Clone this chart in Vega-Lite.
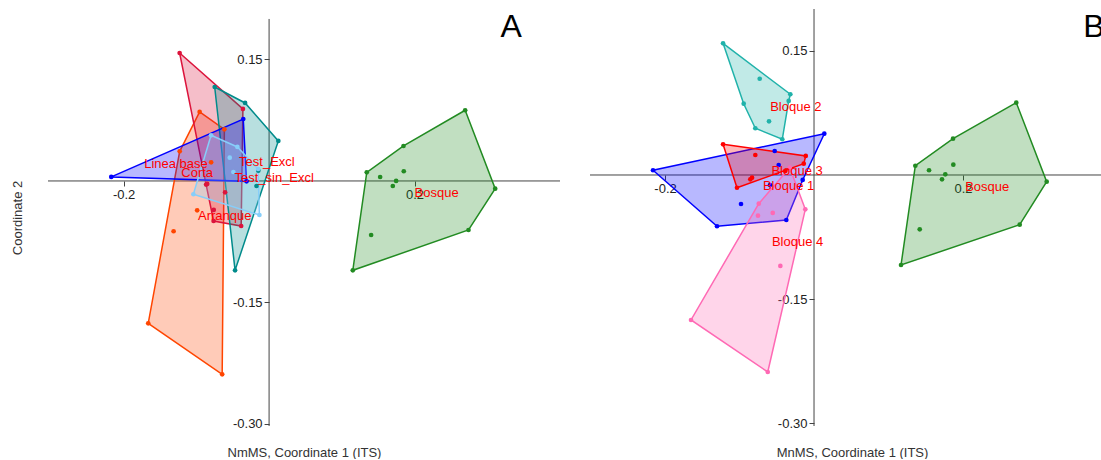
{
  "$schema": "https://vega.github.io/schema/vega-lite/v6.json",
  "padding": {"left": 11, "top": 8, "right": 0, "bottom": 0},
  "spacing": 28,
  "config": {
    "view": {"stroke": null},
    "font": "Liberation Sans",
    "axis": {"grid": false, "domain": false, "tickColor": "#444", "tickSize": 5, "tickWidth": 1, "labelFontSize": 13, "labelColor": "#222", "labelFont": "Liberation Sans", "labelPadding": 2, "titleFont": "Liberation Sans", "titleFontSize": 13, "titleFontWeight": "normal", "titleColor": "#333", "maxExtent": 600, "minExtent": 0}
  },
  "resolve": {"scale": {"x": "independent", "y": "independent", "color": "independent", "fill": "independent", "stroke": "independent"}},
  "datasets": {
    "axA": [{"x": -0.304, "y": 0, "x2": 0.4, "y2": 0}, {"x": 0, "y": -0.3025, "x2": 0, "y2": 0.2}],
    "axB": [{"x": -0.3007, "y": 0, "x2": 0.3879, "y2": 0}, {"x": 0, "y": -0.3035, "x2": 0, "y2": 0.2007}],
    "ptsA": [
      {"g": "Linea base", "x": -0.217, "y": 0.005},
      {"g": "Linea base", "x": -0.0355, "y": 0.0765},
      {"g": "Linea base", "x": -0.031, "y": -0.0005},
      {"g": "Corta", "x": -0.123, "y": 0.158},
      {"g": "Corta", "x": -0.036, "y": 0.089},
      {"g": "Corta", "x": -0.0866, "y": -0.0045},
      {"g": "Corta", "x": -0.0851, "y": -0.0037},
      {"g": "Corta", "x": -0.0605, "y": -0.014},
      {"g": "Corta", "x": -0.0761, "y": -0.0358},
      {"g": "Corta", "x": -0.0763, "y": -0.0494},
      {"g": "Corta", "x": -0.0384, "y": -0.0556},
      {"g": "Arranque", "x": -0.0955, "y": 0.0852},
      {"g": "Arranque", "x": -0.0615, "y": 0.0638},
      {"g": "Arranque", "x": -0.1229, "y": 0.0366},
      {"g": "Arranque", "x": -0.0797, "y": 0.023},
      {"g": "Arranque", "x": -0.0989, "y": -0.0362},
      {"g": "Arranque", "x": -0.1313, "y": -0.0621},
      {"g": "Arranque", "x": -0.1662, "y": -0.1757},
      {"g": "Arranque", "x": -0.0645, "y": -0.2387},
      {"g": "Test_sin_Excl", "x": -0.0748, "y": 0.116},
      {"g": "Test_sin_Excl", "x": -0.033, "y": 0.0963},
      {"g": "Test_sin_Excl", "x": 0.0127, "y": 0.0494},
      {"g": "Test_sin_Excl", "x": -0.0148, "y": 0.0127},
      {"g": "Test_sin_Excl", "x": -0.0173, "y": -0.0062},
      {"g": "Test_sin_Excl", "x": -0.0468, "y": -0.1103},
      {"g": "Test_Excl", "x": -0.0798, "y": 0.0564},
      {"g": "Test_Excl", "x": -0.0436, "y": 0.042},
      {"g": "Test_Excl", "x": -0.0541, "y": 0.0288},
      {"g": "Test_Excl", "x": -0.0491, "y": 0.0111},
      {"g": "Test_Excl", "x": -0.0151, "y": 0.0148},
      {"g": "Test_Excl", "x": -0.1041, "y": -0.0164},
      {"g": "Test_Excl", "x": -0.0133, "y": -0.042},
      {"g": "Bosque", "x": 0.2696, "y": 0.0873},
      {"g": "Bosque", "x": 0.1848, "y": 0.0432},
      {"g": "Bosque", "x": 0.1343, "y": 0.0107},
      {"g": "Bosque", "x": 0.1527, "y": 0.0049},
      {"g": "Bosque", "x": 0.1852, "y": 0.012},
      {"g": "Bosque", "x": 0.1747, "y": 0.0},
      {"g": "Bosque", "x": 0.1701, "y": -0.0062},
      {"g": "Bosque", "x": 0.3109, "y": -0.0095},
      {"g": "Bosque", "x": 0.2742, "y": -0.0605},
      {"g": "Bosque", "x": 0.1403, "y": -0.0667},
      {"g": "Bosque", "x": 0.1151, "y": -0.1103}
    ],
    "hullA": [
      {"g": "Bosque", "o": 1, "x": 0.2696, "y": 0.0873},
      {"g": "Bosque", "o": 2, "x": 0.3109, "y": -0.0095},
      {"g": "Bosque", "o": 3, "x": 0.2742, "y": -0.0605},
      {"g": "Bosque", "o": 4, "x": 0.1151, "y": -0.1103},
      {"g": "Bosque", "o": 5, "x": 0.1343, "y": 0.0107},
      {"g": "Bosque", "o": 6, "x": 0.1848, "y": 0.0432},
      {"g": "Bosque", "o": 7, "x": 0.2696, "y": 0.0873},
      {"g": "Arranque", "o": 1, "x": -0.0955, "y": 0.0852},
      {"g": "Arranque", "o": 2, "x": -0.0615, "y": 0.0638},
      {"g": "Arranque", "o": 3, "x": -0.0645, "y": -0.2387},
      {"g": "Arranque", "o": 4, "x": -0.1662, "y": -0.1757},
      {"g": "Arranque", "o": 5, "x": -0.1229, "y": 0.0366},
      {"g": "Arranque", "o": 6, "x": -0.0955, "y": 0.0852},
      {"g": "Corta", "o": 1, "x": -0.123, "y": 0.158},
      {"g": "Corta", "o": 2, "x": -0.036, "y": 0.089},
      {"g": "Corta", "o": 3, "x": -0.0384, "y": -0.0556},
      {"g": "Corta", "o": 4, "x": -0.0763, "y": -0.0494},
      {"g": "Corta", "o": 5, "x": -0.0866, "y": -0.0045},
      {"g": "Corta", "o": 6, "x": -0.123, "y": 0.158},
      {"g": "Test_sin_Excl", "o": 1, "x": -0.0748, "y": 0.116},
      {"g": "Test_sin_Excl", "o": 2, "x": -0.033, "y": 0.0963},
      {"g": "Test_sin_Excl", "o": 3, "x": 0.0127, "y": 0.0494},
      {"g": "Test_sin_Excl", "o": 4, "x": -0.0468, "y": -0.1103},
      {"g": "Test_sin_Excl", "o": 5, "x": -0.0748, "y": 0.116},
      {"g": "Linea base", "o": 1, "x": -0.217, "y": 0.005},
      {"g": "Linea base", "o": 2, "x": -0.0355, "y": 0.0765},
      {"g": "Linea base", "o": 3, "x": -0.031, "y": -0.0005},
      {"g": "Linea base", "o": 4, "x": -0.217, "y": 0.005},
      {"g": "Test_Excl", "o": 1, "x": -0.0798, "y": 0.0564},
      {"g": "Test_Excl", "o": 2, "x": -0.0436, "y": 0.042},
      {"g": "Test_Excl", "o": 3, "x": -0.0151, "y": 0.0148},
      {"g": "Test_Excl", "o": 4, "x": -0.0133, "y": -0.042},
      {"g": "Test_Excl", "o": 5, "x": -0.1041, "y": -0.0164},
      {"g": "Test_Excl", "o": 6, "x": -0.0798, "y": 0.0564}
    ],
    "labA": [
      {"t": "Linea base", "x": -0.128, "y": 0.0206},
      {"t": "Corta", "x": -0.0989, "y": 0.0095},
      {"t": "Test_Excl", "x": -0.003, "y": 0.0231},
      {"t": "Test_sin_Excl", "x": 0.007, "y": 0.0041},
      {"t": "Arranque", "x": -0.061, "y": -0.0432},
      {"t": "Bosque", "x": 0.2303, "y": -0.0152}
    ],
    "letA": [{"t": "A", "x": 0.333, "y": 0.178}],
    "ptsB": [
      {"g": "Bloque 2", "x": -0.1221, "y": 0.1592},
      {"g": "Bloque 2", "x": -0.0729, "y": 0.1164},
      {"g": "Bloque 2", "x": -0.0318, "y": 0.0976},
      {"g": "Bloque 2", "x": -0.034, "y": 0.0895},
      {"g": "Bloque 2", "x": -0.0944, "y": 0.0862},
      {"g": "Bloque 2", "x": -0.0604, "y": 0.0649},
      {"g": "Bloque 2", "x": -0.0788, "y": 0.0565},
      {"g": "Bloque 2", "x": -0.0426, "y": 0.0432},
      {"g": "Bloque 1", "x": 0.0138, "y": 0.0499},
      {"g": "Bloque 1", "x": -0.2161, "y": 0.0057},
      {"g": "Bloque 1", "x": -0.1302, "y": -0.062},
      {"g": "Bloque 1", "x": -0.0372, "y": -0.0544},
      {"g": "Bloque 1", "x": -0.0152, "y": -0.006},
      {"g": "Bloque 1", "x": -0.0528, "y": 0.029},
      {"g": "Bloque 1", "x": -0.0474, "y": 0.0121},
      {"g": "Bloque 1", "x": -0.098, "y": -0.0351},
      {"g": "Bloque 1", "x": -0.0591, "y": -0.0121},
      {"g": "Bloque 3", "x": -0.1221, "y": 0.0371},
      {"g": "Bloque 3", "x": -0.0788, "y": 0.0242},
      {"g": "Bloque 3", "x": -0.0111, "y": 0.023},
      {"g": "Bloque 3", "x": -0.0138, "y": 0.0137},
      {"g": "Bloque 3", "x": -0.0385, "y": 0.0048},
      {"g": "Bloque 3", "x": -0.0832, "y": -0.0033},
      {"g": "Bloque 3", "x": -0.0855, "y": -0.0052},
      {"g": "Bloque 3", "x": -0.1034, "y": -0.0154},
      {"g": "Bloque 4", "x": -0.0326, "y": 0.0088},
      {"g": "Bloque 4", "x": -0.0117, "y": -0.0415},
      {"g": "Bloque 4", "x": -0.0621, "y": -0.2382},
      {"g": "Bloque 4", "x": -0.1651, "y": -0.1753},
      {"g": "Bloque 4", "x": -0.0742, "y": -0.0347},
      {"g": "Bloque 4", "x": -0.0752, "y": -0.0492},
      {"g": "Bloque 4", "x": -0.0554, "y": -0.0459},
      {"g": "Bloque 4", "x": -0.0452, "y": -0.11},
      {"g": "Bosque", "x": 0.2715, "y": 0.0874},
      {"g": "Bosque", "x": 0.1866, "y": 0.0439},
      {"g": "Bosque", "x": 0.136, "y": 0.0112},
      {"g": "Bosque", "x": 0.1544, "y": 0.0057},
      {"g": "Bosque", "x": 0.187, "y": 0.0125},
      {"g": "Bosque", "x": 0.1762, "y": 0.0008},
      {"g": "Bosque", "x": 0.1718, "y": -0.0052},
      {"g": "Bosque", "x": 0.3123, "y": -0.0081},
      {"g": "Bosque", "x": 0.2761, "y": -0.0601},
      {"g": "Bosque", "x": 0.1419, "y": -0.0657},
      {"g": "Bosque", "x": 0.1168, "y": -0.1088}
    ],
    "hullB": [
      {"g": "Bosque", "o": 1, "x": 0.2715, "y": 0.0874},
      {"g": "Bosque", "o": 2, "x": 0.3123, "y": -0.0081},
      {"g": "Bosque", "o": 3, "x": 0.2761, "y": -0.0601},
      {"g": "Bosque", "o": 4, "x": 0.1168, "y": -0.1088},
      {"g": "Bosque", "o": 5, "x": 0.136, "y": 0.0112},
      {"g": "Bosque", "o": 6, "x": 0.1866, "y": 0.0439},
      {"g": "Bosque", "o": 7, "x": 0.2715, "y": 0.0874},
      {"g": "Bloque 2", "o": 1, "x": -0.1221, "y": 0.1592},
      {"g": "Bloque 2", "o": 2, "x": -0.0318, "y": 0.0976},
      {"g": "Bloque 2", "o": 3, "x": -0.034, "y": 0.0895},
      {"g": "Bloque 2", "o": 4, "x": -0.0426, "y": 0.0432},
      {"g": "Bloque 2", "o": 5, "x": -0.0788, "y": 0.0565},
      {"g": "Bloque 2", "o": 6, "x": -0.0944, "y": 0.0862},
      {"g": "Bloque 2", "o": 7, "x": -0.1221, "y": 0.1592},
      {"g": "Bloque 1", "o": 1, "x": 0.0138, "y": 0.0499},
      {"g": "Bloque 1", "o": 2, "x": -0.0152, "y": -0.006},
      {"g": "Bloque 1", "o": 3, "x": -0.0372, "y": -0.0544},
      {"g": "Bloque 1", "o": 4, "x": -0.1302, "y": -0.062},
      {"g": "Bloque 1", "o": 5, "x": -0.2161, "y": 0.0057},
      {"g": "Bloque 1", "o": 6, "x": 0.0138, "y": 0.0499},
      {"g": "Bloque 4", "o": 1, "x": -0.0326, "y": 0.0088},
      {"g": "Bloque 4", "o": 2, "x": -0.0117, "y": -0.0415},
      {"g": "Bloque 4", "o": 3, "x": -0.0621, "y": -0.2382},
      {"g": "Bloque 4", "o": 4, "x": -0.1651, "y": -0.1753},
      {"g": "Bloque 4", "o": 5, "x": -0.0742, "y": -0.0347},
      {"g": "Bloque 4", "o": 6, "x": -0.0326, "y": 0.0088},
      {"g": "Bloque 3", "o": 1, "x": -0.1221, "y": 0.0371},
      {"g": "Bloque 3", "o": 2, "x": -0.0111, "y": 0.023},
      {"g": "Bloque 3", "o": 3, "x": -0.0138, "y": 0.0137},
      {"g": "Bloque 3", "o": 4, "x": -0.1034, "y": -0.0154},
      {"g": "Bloque 3", "o": 5, "x": -0.1221, "y": 0.0371}
    ],
    "labB": [
      {"t": "Bloque 2", "x": -0.0244, "y": 0.0826},
      {"t": "Bloque 3", "x": -0.0228, "y": 0.0048},
      {"t": "Bloque 1", "x": -0.0342, "y": -0.0133},
      {"t": "Bloque 4", "x": -0.0221, "y": -0.0806},
      {"t": "Bosque", "x": 0.2325, "y": -0.0141}
    ],
    "letB": [{"t": "B", "x": 0.3758, "y": 0.1669}]
  },
  "hconcat": [
    {
      "width": 512,
      "height": 417,
      "encoding": {
        "x": {"field": "x", "type": "quantitative", "scale": {"domain": [-0.304, 0.4], "nice": false, "zero": false},
          "axis": {"orient": "bottom", "offset": -245, "values": [-0.2, 0.2], "labelExpr": "datum.value < 0 ? '-' + format(-datum.value, '.1f') : format(datum.value, '.1f')", "title": "NmMS, Coordinate 1 (ITS)", "titleY": 265}},
        "y": {"field": "y", "type": "quantitative", "scale": {"domain": [-0.3025, 0.2123], "nice": false, "zero": false},
          "axis": {"orient": "left", "offset": -221.1, "values": [0.15, -0.15, -0.3], "labelExpr": "datum.value < 0 ? '-' + format(-datum.value, '.2f') : format(datum.value, '.2f')", "title": "Coordinate 2", "titleX": -245}}
      },
      "layer": [
        {"data": {"name": "axA"}, "mark": {"type": "rule", "color": "#444", "strokeWidth": 1},
          "encoding": {"x2": {"field": "x2"}, "y2": {"field": "y2"}}},
        {"data": {"name": "hullA"}, "mark": {"type": "line", "strokeWidth": 1.5, "fillOpacity": 0.28},
          "encoding": {
            "order": {"field": "o", "type": "quantitative"},
            "detail": {"field": "g", "type": "nominal"},
            "stroke": {"field": "g", "type": "nominal", "legend": null, "scale": {"domain": ["Linea base", "Corta", "Arranque", "Test_sin_Excl", "Test_Excl", "Bosque"], "range": ["#0000ff", "#dc143c", "#ff4500", "#008b8b", "#87cefa", "#228b22"]}},
            "fill": {"field": "g", "type": "nominal", "legend": null, "scale": {"domain": ["Linea base", "Corta", "Arranque", "Test_sin_Excl", "Test_Excl", "Bosque"], "range": ["#0000ff", "#dc143c", "#ff4500", "#008b8b", "#87cefa", "#228b22"]}}
          }},
        {"data": {"name": "ptsA"}, "mark": {"type": "circle", "size": 22, "opacity": 1},
          "encoding": {
            "color": {"field": "g", "type": "nominal", "legend": null, "scale": {"domain": ["Linea base", "Corta", "Arranque", "Test_sin_Excl", "Test_Excl", "Bosque"], "range": ["#0000ff", "#dc143c", "#ff4500", "#008b8b", "#87cefa", "#228b22"]}}
          }},
        {"data": {"name": "labA"}, "mark": {"type": "text", "color": "#ff0000", "fontSize": 13, "align": "center", "baseline": "middle", "font": "Liberation Sans"},
          "encoding": {"text": {"field": "t"}}},
        {"data": {"name": "letA"}, "mark": {"type": "text", "color": "#000000", "fontSize": 32, "align": "center", "baseline": "alphabetic", "font": "Liberation Sans"},
          "encoding": {"text": {"field": "t"}}}
      ]
    },
    {
      "width": 513,
      "height": 417,
      "encoding": {
        "x": {"field": "x", "type": "quantitative", "scale": {"domain": [-0.3007, 0.3879], "nice": false, "zero": false},
          "axis": {"orient": "bottom", "offset": -251, "values": [-0.2, 0.2], "labelExpr": "datum.value < 0 ? '-' + format(-datum.value, '.1f') : format(datum.value, '.1f')", "title": "MnMS, Coordinate 1 (ITS)", "titleY": 271, "titleX": 262}},
        "y": {"field": "y", "type": "quantitative", "scale": {"domain": [-0.3035, 0.2007], "nice": false, "zero": false},
          "axis": {"orient": "left", "offset": -224, "values": [0.15, -0.15, -0.3], "labelExpr": "datum.value < 0 ? '-' + format(-datum.value, '.2f') : format(datum.value, '.2f')", "title": null}}
      },
      "layer": [
        {"data": {"name": "axB"}, "mark": {"type": "rule", "color": "#444", "strokeWidth": 1},
          "encoding": {"x2": {"field": "x2"}, "y2": {"field": "y2"}}},
        {"data": {"name": "hullB"}, "mark": {"type": "line", "strokeWidth": 1.5, "fillOpacity": 0.28},
          "encoding": {
            "order": {"field": "o", "type": "quantitative"},
            "detail": {"field": "g", "type": "nominal"},
            "stroke": {"field": "g", "type": "nominal", "legend": null, "scale": {"domain": ["Bloque 1", "Bloque 2", "Bloque 3", "Bloque 4", "Bosque"], "range": ["#0000ff", "#20b2aa", "#ff0000", "#ff69b4", "#228b22"]}},
            "fill": {"field": "g", "type": "nominal", "legend": null, "scale": {"domain": ["Bloque 1", "Bloque 2", "Bloque 3", "Bloque 4", "Bosque"], "range": ["#0000ff", "#20b2aa", "#ff0000", "#ff69b4", "#228b22"]}}
          }},
        {"data": {"name": "ptsB"}, "mark": {"type": "circle", "size": 22, "opacity": 1},
          "encoding": {
            "color": {"field": "g", "type": "nominal", "legend": null, "scale": {"domain": ["Bloque 1", "Bloque 2", "Bloque 3", "Bloque 4", "Bosque"], "range": ["#0000ff", "#20b2aa", "#ff0000", "#ff69b4", "#228b22"]}}
          }},
        {"data": {"name": "labB"}, "mark": {"type": "text", "color": "#ff0000", "fontSize": 13, "align": "center", "baseline": "middle", "font": "Liberation Sans"},
          "encoding": {"text": {"field": "t"}}},
        {"data": {"name": "letB"}, "mark": {"type": "text", "color": "#000000", "fontSize": 32, "align": "center", "baseline": "alphabetic", "font": "Liberation Sans"},
          "encoding": {"text": {"field": "t"}}}
      ]
    }
  ]
}
